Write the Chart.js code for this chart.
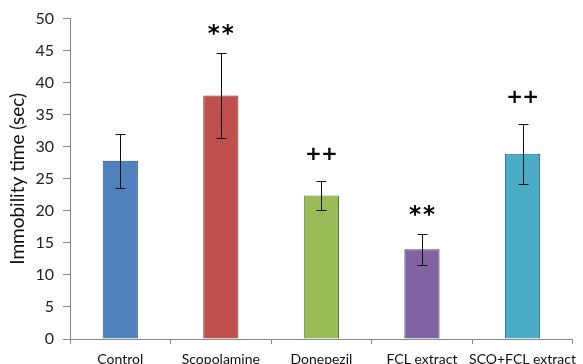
<!DOCTYPE html>
<html>
<head>
<meta charset="utf-8">
<script src="https://cdn.jsdelivr.net/npm/chart.js@4/dist/chart.umd.min.js"></script>
<style>
  html, body { margin: 0; padding: 0; background: #fff; }
  #wrap { width: 583px; height: 364px; }
</style>
</head>
<body>
<div id="wrap"><canvas id="c" width="583" height="364"></canvas></div>
<script>
// Immobility time by treatment group (mean ± SD)
const groups = ['Control', 'Scopolamine', 'Donepezil', 'FCL extract', 'SCO+FCL extract'];
const meanTime = [27.8, 38.0, 22.4, 14.0, 28.9];
const sdTime = [4.2, 6.6, 2.25, 2.45, 4.65];
const marks = ['', '**', '++', '**', '++'];
const yTicks = [0, 5, 10, 15, 20, 25, 30, 35, 40, 45, 50];

const fills = ['#4F81BD', '#C0504D', '#9BBB59', '#8064A2', '#4BACC6'];
const edges = ['#2B4A73', '#7A2F2D', '#5E7434', '#4C3B63', '#2A6A7D'];

// Error bars plus significance marks above each bar
const errorBars = {
  id: 'errorBars',
  afterDatasetsDraw(chart) {
    const { ctx, scales: { y } } = chart;
    const meta = chart.getDatasetMeta(0);
    ctx.save();
    ctx.strokeStyle = '#111';
    ctx.lineWidth = 1;
    meta.data.forEach((bar, i) => {
      const x = Math.round(bar.x) + 0.5;
      const hi = Math.round(y.getPixelForValue(meanTime[i] + sdTime[i])) + 0.5;
      const lo = Math.round(y.getPixelForValue(meanTime[i] - sdTime[i])) + 0.5;
      ctx.beginPath();
      ctx.moveTo(x, hi); ctx.lineTo(x, lo);
      ctx.moveTo(x - 5, hi); ctx.lineTo(x + 5, hi);
      ctx.moveTo(x - 5, lo); ctx.lineTo(x + 5, lo);
      ctx.stroke();
      const m = marks[i];
      if (m) {
        ctx.fillStyle = '#000';
        ctx.font = m === '**' ? 'bold 23px "DejaVu Sans"' : 'bold 20px "DejaVu Sans"';
        ctx.textAlign = 'center';
        ctx.textBaseline = 'alphabetic';
        const mid = hi - (m === '**' ? 24 : 28);
        const step = m === '**' ? 7 : 8;
        [...m].forEach((ch, k) => {
          const tm = ctx.measureText(ch);
          const base = mid + (tm.actualBoundingBoxAscent - tm.actualBoundingBoxDescent) / 2;
          ctx.fillText(ch, bar.x + (k === 0 ? -step : step), base);
        });
      }
    });
    ctx.restore();
  }
};

new Chart(document.getElementById('c'), {
  type: 'bar',
  data: {
    labels: groups,
    datasets: [{
      data: meanTime,
      backgroundColor: fills,
      borderColor: edges,
      borderWidth: 1,
      barPercentage: 0.35,
      categoryPercentage: 1
    }]
  },
  options: {
    responsive: false,
    animation: false,
    devicePixelRatio: 1,
    layout: { padding: { top: 17, right: 0, left: 0, bottom: 0 } },
    plugins: { legend: { display: false }, tooltip: { enabled: false } },
    scales: {
      x: {
        grid: { display: true, offset: true, drawOnChartArea: false, tickLength: 5, color: '#888' },
        border: { color: '#888', width: 1 },
        ticks: { color: '#111', font: { family: 'Lato', size: 14 }, padding: 7, maxRotation: 0, autoSkip: false },
        afterFit(s) { s.height = 25; }
      },
      y: {
        min: 0, max: 50,
        afterBuildTicks(s) { s.ticks = yTicks.map(v => ({ value: v })); },
        grid: { display: true, drawOnChartArea: false, tickLength: 7, color: '#888' },
        border: { color: '#888', width: 1 },
        ticks: { color: '#222', font: { family: 'Lato', size: 16 }, padding: 9 },
        title: { display: true, text: 'Immobility time (sec)', color: '#111', font: { family: 'Lato', size: 19 }, padding: { top: 6, bottom: 2 } },
        afterFit(s) { s.width = 70; }
      }
    }
  },
  plugins: [errorBars]
});
</script>
</body>
</html>
